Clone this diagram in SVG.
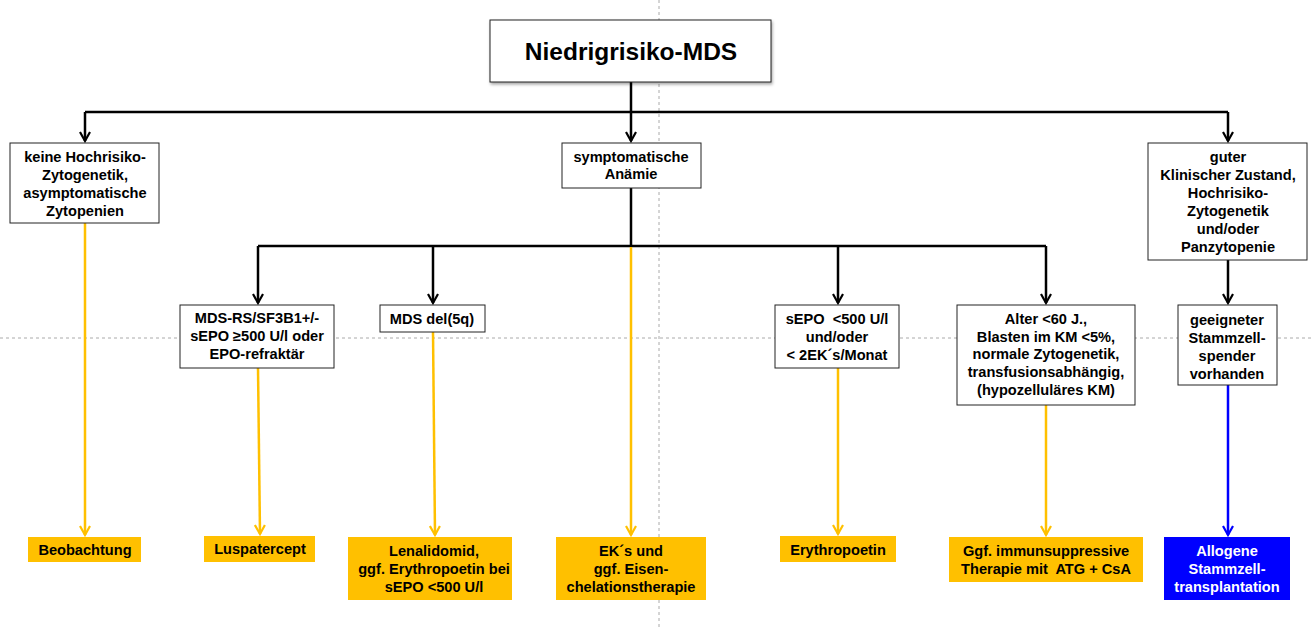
<svg xmlns="http://www.w3.org/2000/svg" width="1312" height="628" viewBox="0 0 1312 628">
<defs>
<marker id="ab" viewBox="0 0 12 12" refX="10" refY="6" markerWidth="12" markerHeight="12" markerUnits="userSpaceOnUse" orient="auto"><path d="M1,1 L10,6 L1,11" fill="none" stroke="#000" stroke-width="2.2"/></marker>
<marker id="ay" viewBox="0 0 12 12" refX="10" refY="6" markerWidth="12" markerHeight="12" markerUnits="userSpaceOnUse" orient="auto"><path d="M1,1 L10,6 L1,11" fill="none" stroke="#FFC000" stroke-width="2.2"/></marker>
<marker id="aq" viewBox="0 0 12 12" refX="10" refY="6" markerWidth="12" markerHeight="12" markerUnits="userSpaceOnUse" orient="auto"><path d="M1,1 L10,6 L1,11" fill="none" stroke="#0000FF" stroke-width="2.2"/></marker>
<filter id="sh" x="-5%" y="-10%" width="110%" height="130%"><feDropShadow dx="1" dy="2" stdDeviation="1.5" flood-color="#000" flood-opacity="0.35"/></filter>
</defs>
<style>
text{font-family:"Liberation Sans",Arial,sans-serif;font-weight:bold;font-size:14.6px;text-anchor:middle;fill:#000;white-space:pre}
.box{fill:#fff;stroke:#222;stroke-width:1}
.yb{fill:#FFC000}
.bb{fill:#0000FF}
.blk{fill:none;stroke:#000;stroke-width:2.5}
.yl{fill:none;stroke:#FFC000;stroke-width:2.5}
.bl{fill:none;stroke:#0000FF;stroke-width:2.5}
.guide{stroke:#aaa;stroke-width:1;stroke-dasharray:3,3}
.w{fill:#fff}
</style>
<rect width="1312" height="628" fill="#fff"/>
<line class="guide" x1="659" y1="0" x2="659" y2="628"/>
<line class="guide" x1="0" y1="338" x2="1312" y2="338"/>
<g id="connectors">
<path class="blk" d="M631,82 V112"/>
<path class="blk" d="M85,112 H1228"/>
<path class="blk" d="M85,112 V141" marker-end="url(#ab)"/>
<path class="blk" d="M631,112 V141" marker-end="url(#ab)"/>
<path class="blk" d="M1228,112 V141" marker-end="url(#ab)"/>
<path class="blk" d="M631,188 V246"/>
<path class="blk" d="M258,246 H1046"/>
<path class="blk" d="M258,246 V303" marker-end="url(#ab)"/>
<path class="blk" d="M433,246 V303" marker-end="url(#ab)"/>
<path class="blk" d="M838,246 V303" marker-end="url(#ab)"/>
<path class="blk" d="M1046,246 V303" marker-end="url(#ab)"/>
<path class="blk" d="M1228,260 V303" marker-end="url(#ab)"/>
<path class="yl" d="M85,223 V535" marker-end="url(#ay)"/>
<path class="yl" d="M258,368 L260,534" marker-end="url(#ay)"/>
<path class="yl" d="M433,332 L435,535" marker-end="url(#ay)"/>
<path class="yl" d="M631,247 V535" marker-end="url(#ay)"/>
<path class="yl" d="M838,368 V534" marker-end="url(#ay)"/>
<path class="yl" d="M1046,405 V535" marker-end="url(#ay)"/>
<path class="bl" d="M1228,385 V535" marker-end="url(#aq)"/>
</g>
<g id="n-root">
<rect class="box" x="490" y="20" width="281" height="62" filter="url(#sh)"/>
<text x="631" y="60" style="font-size:24.5px">Niedrigrisiko-MDS</text>
</g>
<g id="n-keine">
<rect class="box" x="10" y="143" width="149" height="80"/>
<text x="85" y="162">keine Hochrisiko-</text>
<text x="85" y="180">Zytogenetik,</text>
<text x="85" y="198">asymptomatische</text>
<text x="85" y="216">Zytopenien</text>
</g>
<g id="n-sympt">
<rect class="box" x="562" y="143" width="139" height="45"/>
<text x="631" y="162">symptomatische</text>
<text x="631" y="179">Anämie</text>
</g>
<g id="n-guter">
<rect class="box" x="1148" y="143" width="159" height="117"/>
<text x="1228" y="162">guter</text>
<text x="1228" y="180">Klinischer Zustand,</text>
<text x="1228" y="198">Hochrisiko-</text>
<text x="1228" y="216">Zytogenetik</text>
<text x="1228" y="234">und/oder</text>
<text x="1228" y="252">Panzytopenie</text>
</g>
<g id="n-mdsrs">
<rect class="box" x="180" y="305" width="154" height="63"/>
<text x="257" y="323">MDS-RS/SF3B1+/-</text>
<text x="257" y="341">sEPO ≥500 U/l oder</text>
<text x="257" y="359">EPO-refraktär</text>
</g>
<g id="n-del5q">
<rect class="box" x="380" y="305" width="105" height="27"/>
<text x="432" y="324">MDS del(5q)</text>
</g>
<g id="n-sepo">
<rect class="box" x="775" y="305" width="124" height="63"/>
<text x="837" y="324">sEPO  &lt;500 U/l</text>
<text x="837" y="342">und/oder</text>
<text x="837" y="360">&lt; 2EK´s/Monat</text>
</g>
<g id="n-alter">
<rect class="box" x="957" y="305" width="178" height="100"/>
<text x="1046" y="324">Alter &lt;60 J.,</text>
<text x="1046" y="342">Blasten im KM &lt;5%,</text>
<text x="1046" y="359">normale Zytogenetik,</text>
<text x="1046" y="377">transfusionsabhängig,</text>
<text x="1046" y="395">(hypozelluläres KM)</text>
</g>
<g id="n-spender">
<rect class="box" x="1178" y="305" width="99" height="80"/>
<text x="1227" y="325">geeigneter</text>
<text x="1227" y="343">Stammzell-</text>
<text x="1227" y="361">spender</text>
<text x="1227" y="379">vorhanden</text>
</g>
<g id="n-beob">
<rect class="yb" x="28" y="537" width="113" height="25"/>
<text x="85" y="555">Beobachtung</text>
</g>
<g id="n-lusp">
<rect class="yb" x="204" y="536" width="111" height="26"/>
<text x="260" y="554">Luspatercept</text>
</g>
<g id="n-lena">
<rect class="yb" x="348" y="537" width="164" height="63"/>
<text x="434" y="556">Lenalidomid,</text>
<text x="434" y="574">ggf. Erythropoetin bei</text>
<text x="434" y="592">sEPO &lt;500 U/l</text>
</g>
<g id="n-ek">
<rect class="yb" x="556" y="537" width="150" height="63"/>
<text x="631" y="556">EK´s und</text>
<text x="631" y="574">ggf. Eisen-</text>
<text x="631" y="592">chelationstherapie</text>
</g>
<g id="n-epo">
<rect class="yb" x="780" y="536" width="116" height="26"/>
<text x="838" y="555">Erythropoetin</text>
</g>
<g id="n-ist">
<rect class="yb" x="949" y="537" width="194" height="45"/>
<text x="1046" y="556">Ggf. immunsuppressive</text>
<text x="1046" y="574">Therapie mit  ATG + CsA</text>
</g>
<g id="n-allo">
<rect class="bb" x="1164" y="537" width="126" height="63"/>
<text class="w" x="1227" y="556">Allogene</text>
<text class="w" x="1227" y="574">Stammzell-</text>
<text class="w" x="1227" y="592">transplantation</text>
</g>
</svg>
